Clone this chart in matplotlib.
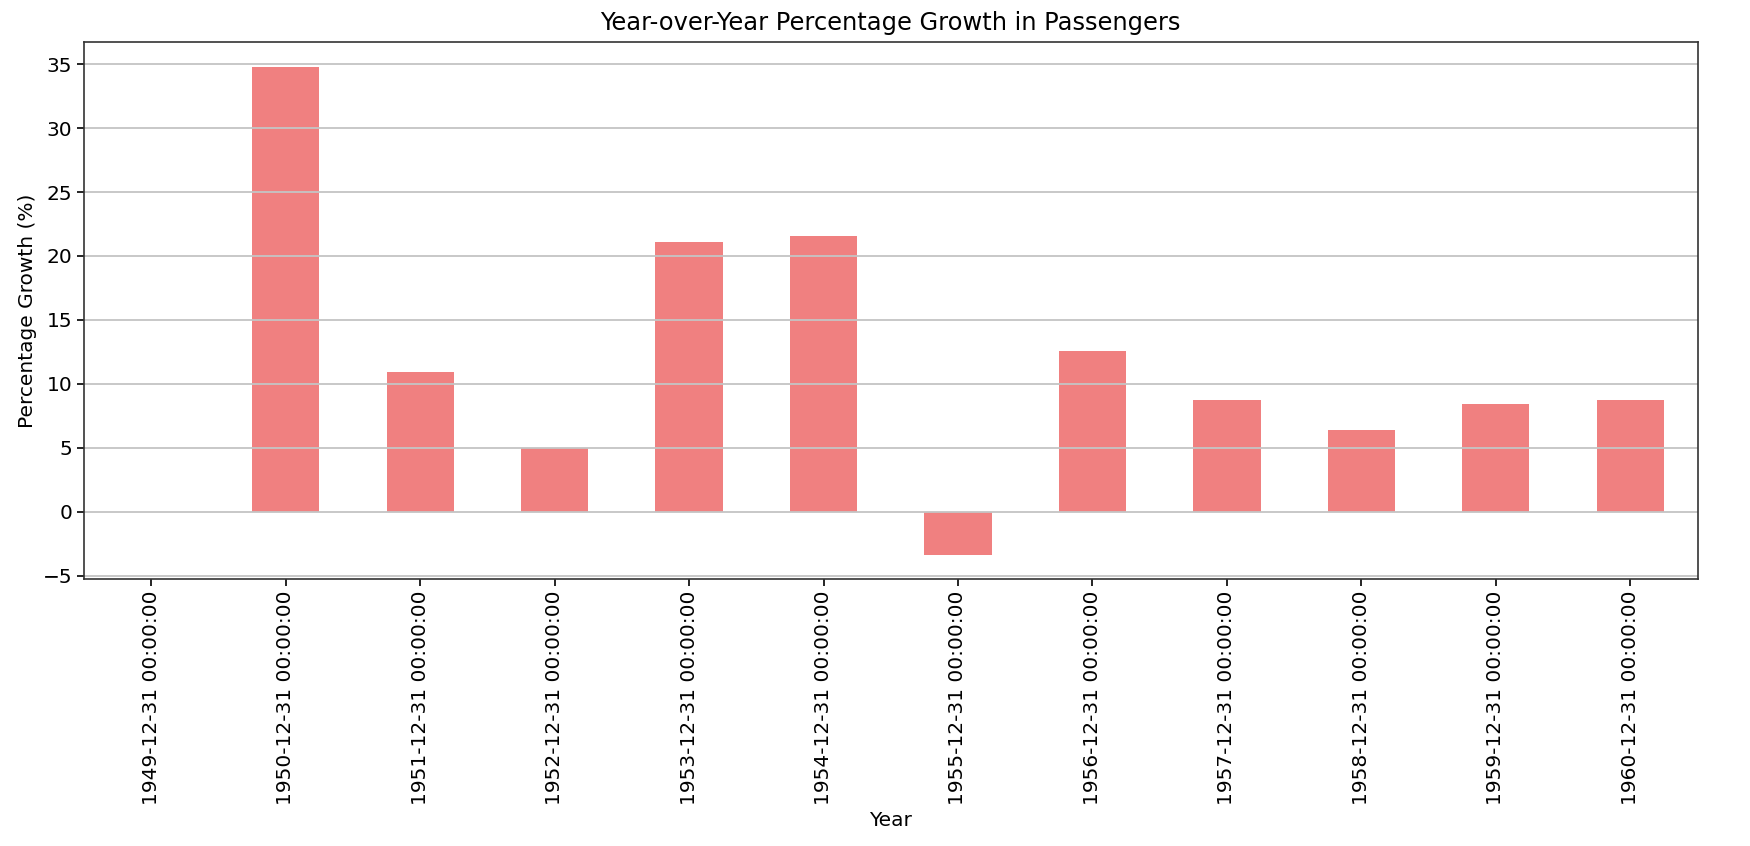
import matplotlib
matplotlib.use("Agg")
import matplotlib.pyplot as plt
import numpy as np
import pandas as pd

# year-end labels and percentage growth (first year has no value)
years = ["1949-12-31 00:00:00", "1950-12-31 00:00:00", "1951-12-31 00:00:00",
         "1952-12-31 00:00:00", "1953-12-31 00:00:00", "1954-12-31 00:00:00",
         "1955-12-31 00:00:00", "1956-12-31 00:00:00", "1957-12-31 00:00:00",
         "1958-12-31 00:00:00", "1959-12-31 00:00:00", "1960-12-31 00:00:00"]
growth = [np.nan, 34.8, 10.95, 5.0, 21.1, 21.6, -3.35, 12.6, 8.75, 6.4, 8.4, 8.75]

s = pd.Series(growth, index=years)

fig = plt.figure(figsize=(17.5, 8.46), dpi=100)
ax = fig.add_axes([0.048, 0.3156, 0.922, 0.6344])

s.plot(kind="bar", color="lightcoral", ax=ax)

ax.set_title("Year-over-Year Percentage Growth in Passengers", fontsize=17.4, pad=9)
ax.set_xlabel("Year", fontsize=14.5)
ax.set_ylabel("Percentage Growth (%)", fontsize=14.5)
ax.tick_params(axis="both", labelsize=14.5, length=5, width=1.2)
ax.grid(True, axis="y", color="#c4c4c4", linewidth=1.3)
for sp in ax.spines.values():
    sp.set_linewidth(1.2)
    sp.set_color("#333333")

fig.savefig("out.png", dpi=100)
plt.close(fig)
